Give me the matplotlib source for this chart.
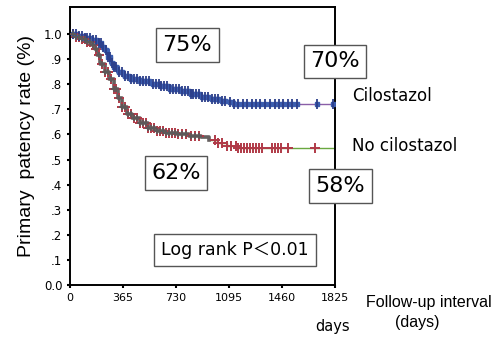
import numpy as np
import matplotlib.pyplot as plt

# Kaplan-Meier step points (days, patency)
cilo_days = [0, 50, 100, 150, 190, 220, 240, 260, 280, 300, 330, 370, 420, 480, 550,
             620, 690, 760, 830, 900, 960, 1030, 1080, 1130]
cilo_surv = [1.0, 0.993, 0.985, 0.975, 0.963, 0.95, 0.935, 0.91, 0.885, 0.868, 0.85,
             0.832, 0.82, 0.812, 0.803, 0.793, 0.783, 0.772, 0.762, 0.75, 0.742, 0.735,
             0.728, 0.72]
no_days = [0, 40, 80, 120, 150, 170, 185, 210, 240, 270, 300, 330, 360, 390, 430, 480,
           540, 600, 660, 740, 820, 900, 960, 1010, 1080, 1150]
no_surv = [1.0, 0.99, 0.98, 0.97, 0.955, 0.94, 0.915, 0.88, 0.85, 0.82, 0.78, 0.745,
           0.71, 0.68, 0.665, 0.645, 0.627, 0.612, 0.605, 0.6, 0.595, 0.588, 0.578,
           0.565, 0.555, 0.545]

# censored observations (days)
cilo_cens = [20, 40, 60, 80, 100, 120, 140, 160, 180, 200, 215, 230, 245, 260, 275, 290,
             305, 320, 340, 360, 380, 400, 420, 440, 460, 480, 500, 520, 545, 570, 590,
             610, 630, 650, 670, 690, 710, 730, 750, 770, 790, 810, 830, 850, 870, 890,
             910, 930, 950, 975, 1000, 1020, 1045, 1070, 1100, 1130, 1160, 1190, 1220,
             1250, 1280, 1310, 1345, 1380, 1410, 1440, 1470, 1500, 1530, 1565, 1700, 1810]
no_cens = [20, 40, 60, 80, 100, 120, 140, 160, 180, 200, 220, 240, 260, 280, 300, 320,
           340, 360, 380, 400, 420, 440, 460, 480, 500, 520, 540, 560, 580, 600, 620, 640,
           660, 680, 700, 720, 745, 770, 800, 830, 860, 890, 1000, 1020, 1050, 1080, 1110,
           1140, 1160, 1180, 1200, 1220, 1240, 1260, 1280, 1300, 1320, 1390, 1410, 1430,
           1450, 1500, 1690]

max_day = 1825
xticks = [0, 365, 730, 1095, 1460, 1825]
yticks = [0.0, 0.1, 0.2, 0.3, 0.4, 0.5, 0.6, 0.7, 0.8, 0.9, 1.0]
ytick_labels = ["0.0", ".1", ".2", ".3", ".4", ".5", ".6", ".7", ".8", ".9", "1.0"]


def step_at(days, surv, t):
    idx = np.searchsorted(days, t, side="right") - 1
    return np.asarray(surv)[idx]


fig = plt.figure(figsize=(4.93, 3.40), dpi=100)
ax = fig.add_axes([70 / 493, 55 / 340, 265 / 493, 278 / 340])

# thin tail lines over the whole range
ax.step(cilo_days + [max_day], cilo_surv + [cilo_surv[-1]], where="post",
        color="#8a5fa8", lw=1.0, zorder=2)
ax.step(no_days + [max_day], no_surv + [no_surv[-1]], where="post",
        color="#6aa840", lw=1.0, zorder=2)
# heavy part where the censoring marks crowd together
ax.step(cilo_days, cilo_surv, where="post", color="#3a5cae", lw=3.0, zorder=2)
ax.step(no_days[:-3], no_surv[:-3], where="post", color="#666060", lw=2.6, zorder=2)

cy = step_at(cilo_days, cilo_surv, cilo_cens)
ny = step_at(no_days, no_surv, no_cens)
ax.plot(cilo_cens, cy, ls="none", marker="s", ms=3.5, color="#3a5cae", zorder=3)
ax.plot(cilo_cens, cy, ls="none", marker="|", ms=6.5, mew=1.3, color="#2c3f8a", zorder=4)
ax.plot(no_cens, ny, ls="none", marker="+", ms=6.5, mew=1.4, color="#b03a48", zorder=3)
dense = np.array(no_cens) < 900
ax.plot(np.array(no_cens)[dense], ny[dense], ls="none", marker="+", ms=5, mew=1.2,
        color="#5a5a5a", zorder=4)

ax.set_xlim(0, max_day)
ax.set_ylim(0, 1.108)
ax.set_xticks(xticks)
ax.set_xticklabels([str(v) for v in xticks], fontsize=8)
ax.set_yticks(yticks)
ax.set_yticklabels(ytick_labels, fontsize=8.5)
ax.tick_params(length=2.5, width=1.5, pad=3)
for s in ax.spines.values():
    s.set_linewidth(1.4)

ax.set_ylabel("Primary  patency rate (%)", family="Liberation Sans", fontsize=14,
              labelpad=6)

box = dict(boxstyle="square,pad=0.3", facecolor="white", edgecolor="#555555", lw=1)
ax.text(806, 0.956, "75%", fontsize=16, ha="center", va="center", bbox=box, zorder=6)
ax.text(1825, 0.892, "70%", fontsize=16, ha="center", va="center", bbox=box, zorder=6,
        clip_on=False)
ax.text(730, 0.446, "62%", fontsize=16, ha="center", va="center", bbox=box, zorder=6)
ax.text(1860, 0.394, "58%", fontsize=16, ha="center", va="center", bbox=box, zorder=6,
        clip_on=False)
ax.text(1136, 0.139, "Log rank P＜0.01", fontsize=12.5, ha="center", va="center",
        family=["DejaVu Sans", "Noto Sans CJK JP"],
        bbox=dict(boxstyle="square,pad=0.4", facecolor="white", edgecolor="#555555", lw=1),
        zorder=6)

ax.text(1942, 0.753, "Cilostazol", fontsize=12, ha="left", va="center")
ax.text(1942, 0.554, "No cilostazol", fontsize=12, ha="left", va="center")

fig.text(366 / 493, 1 - 302 / 340, "Follow-up interval", family="Liberation Sans",
         fontsize=11.5, ha="left", va="center")
fig.text(417 / 493, 1 - 322 / 340, "(days)", family="Liberation Sans",
         fontsize=11.5, ha="center", va="center")
fig.text(333 / 493, 1 - 326 / 340, "days", fontsize=10.5, ha="center", va="center")

fig.savefig("out.png", dpi=100)
